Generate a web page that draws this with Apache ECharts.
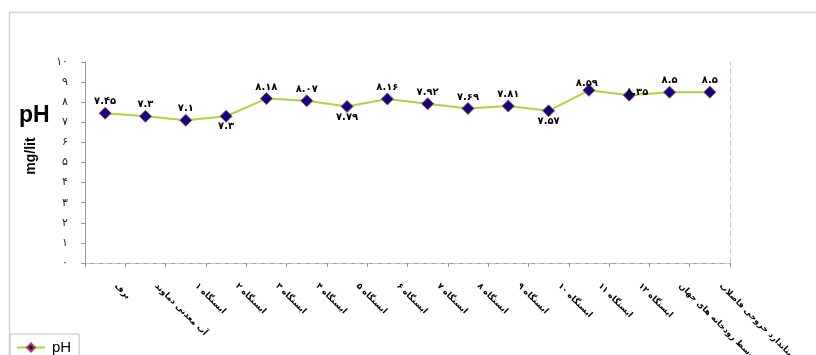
<!DOCTYPE html>
<html>
<head>
<meta charset="utf-8">
<style>
  html, body { margin: 0; padding: 0; background: #fff; }
  #chart { width: 816px; height: 355px; }
</style>
<script src="https://cdn.jsdelivr.net/npm/echarts@6/dist/echarts.min.js"></script>
</head>
<body>
<div id="chart"></div>
<script>
  // ایستگاه‌های نمونه‌برداری
  const stations = [
    'برف', 'آب معدنی دماوند',
    'ایستگاه ۱', 'ایستگاه ۲', 'ایستگاه ۳', 'ایستگاه ۴', 'ایستگاه ۵', 'ایستگاه ۶',
    'ایستگاه ۷', 'ایستگاه ۸', 'ایستگاه ۹', 'ایستگاه ۱۰', 'ایستگاه ۱۱', 'ایستگاه ۱۲',
    'متوسط رودخانه های جهان', 'استاندارد خروجی فاضلاب'
  ];
  const phValues = [7.45, 7.3, 7.1, 7.3, 8.18, 8.07, 7.79, 8.16, 7.92, 7.69, 7.81, 7.57, 8.59, 8.35, 8.5, 8.5];
  const yTicks = [0, 1, 2, 3, 4, 5, 6, 7, 8, 9, 10];

  const faDigits = '۰۱۲۳۴۵۶۷۸۹';
  function toFa(v) {
    return String(v).replace(/[0-9]/g, d => faDigits[+d]);
  }

  // برچسب‌هایی که زیر نقطه نوشته شده‌اند
  const belowIdx = [3, 6, 11];

  const seriesData = phValues.map((v, i) => {
    const item = { value: v };
    if (belowIdx.indexOf(i) >= 0) {
      item.label = { position: 'bottom', distance: -1 };
    } else if (i === 13) {
      item.label = { position: 'top', distance: -9, offset: [8, 0] };
    } else if (i === 12) {
      item.label = { position: 'top', distance: -5, offset: [-2, 0] };
    }
    return item;
  });

  const chart = echarts.init(document.getElementById('chart'));
  const option = {
    animation: false,
    backgroundColor: '#fff',
    grid: { left: 85, right: 86, top: 62, bottom: 92, outerBoundsMode: 'none' },
    legend: {
      left: 10,
      top: 334,
      data: ['pH'],
      borderColor: '#bdbdbd',
      borderWidth: 1,
      borderRadius: 0,
      padding: [6, 8, 12, 6],
      itemWidth: 28,
      itemHeight: 10,
      itemGap: 4,
      textStyle: { fontFamily: 'Liberation Sans', fontSize: 15, color: '#000', padding: [0, 0, 0, 2] }
    },
    graphic: [
      {
        type: 'rect', silent: true,
        shape: { x: 9.5, y: 12.5, width: 830, height: 400 },
        style: { fill: 'none', stroke: '#d4d4d4', lineWidth: 1.5 }
      },
      {
        type: 'text', left: 19, top: 104,
        style: { text: 'pH', font: 'bold 23px "Liberation Sans"', fill: '#000' }
      },
      {
        type: 'text', x: 31, y: 156, rotation: Math.PI / 2,
        style: {
          text: 'mg/lit', font: 'bold 14px "Liberation Sans"', fill: '#000',
          align: 'center', verticalAlign: 'middle'
        }
      }
    ],
    xAxis: [
      {
        type: 'category',
        data: stations,
        boundaryGap: true,
        axisLine: { lineStyle: { color: '#9a9a9a', width: 1 } },
        axisTick: { show: true, length: 4, lineStyle: { color: '#9a9a9a' } },
        axisLabel: {
          interval: 0,
          rotate: -45,
          margin: 11,
          padding: [0, 0, 0, 15],
          fontFamily: 'DejaVu Sans',
          fontSize: 8.5,
          fontWeight: 'bold',
          color: '#000'
        },
        splitLine: { show: false }
      },
      {
        type: 'category',
        position: 'top',
        data: stations,
        axisLine: { lineStyle: { color: '#c8c8c8', type: [5, 4] } },
        axisTick: { show: false },
        axisLabel: { show: false }
      }
    ],
    yAxis: [
      {
        type: 'value',
        min: yTicks[0],
        max: yTicks[yTicks.length - 1],
        interval: 1,
        axisLine: { show: true, lineStyle: { color: '#9a9a9a', width: 1 } },
        axisTick: { show: true, length: 4, lineStyle: { color: '#9a9a9a' } },
        axisLabel: {
          margin: 17,
          fontFamily: 'DejaVu Sans',
          fontSize: 11,
          color: '#222',
          formatter: v => toFa(v)
        },
        splitLine: { show: false }
      },
      {
        type: 'value',
        position: 'right',
        min: yTicks[0],
        max: yTicks[yTicks.length - 1],
        interval: 1,
        axisLine: { show: true, lineStyle: { color: '#c8c8c8', type: [5, 4] } },
        axisTick: { show: false },
        axisLabel: { show: false },
        splitLine: { show: false }
      }
    ],
    series: [
      {
        name: 'pH',
        type: 'line',
        data: seriesData,
        symbol: 'diamond',
        symbolSize: 12,
        lineStyle: { color: '#aed43e', width: 2 },
        itemStyle: { color: '#0a0a80', borderColor: '#c23a5a', borderWidth: 1 },
        label: {
          show: true,
          position: 'top',
          distance: 0,
          fontFamily: 'DejaVu Sans',
          fontSize: 10,
          fontWeight: 'bold',
          color: '#000',
          formatter: p => toFa(p.value)
        }
      }
    ]
  };
  chart.setOption(option);
</script>
</body>
</html>
